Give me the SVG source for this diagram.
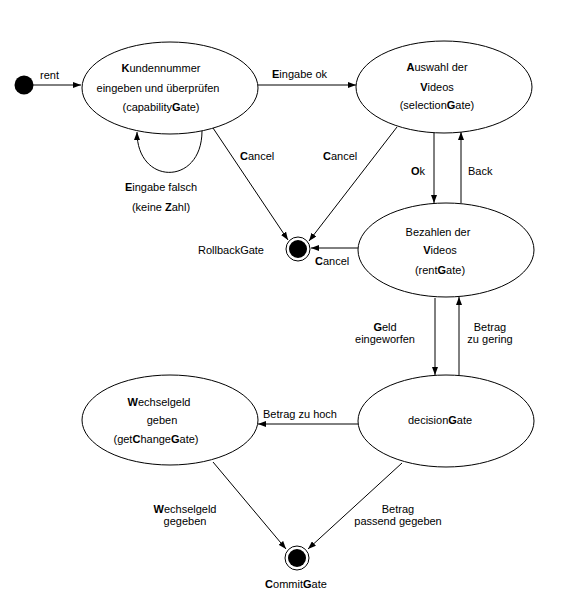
<svg xmlns="http://www.w3.org/2000/svg" width="573" height="603" viewBox="0 0 573 603">
<defs>
<style>
text{font-family:"Liberation Sans",Arial,sans-serif;font-size:11px;fill:#000}
.m{text-anchor:middle}
.e{text-anchor:end}
.b{font-weight:bold}
ellipse{fill:#fff;stroke:#000;stroke-width:1}
.c line,.c path{stroke:#000;stroke-width:1;fill:none}
</style>
<marker id="a" markerWidth="8" markerHeight="6" refX="8" refY="3" orient="auto" markerUnits="userSpaceOnUse">
<path d="M0,0 L8,3 L0,6 z" fill="#000"/>
</marker>
</defs>
<rect width="573" height="603" fill="#fff"/>

<g id="connectors" class="c">
<line x1="33" y1="85" x2="81" y2="85" marker-end="url(#a)"/>
<line x1="258" y1="85" x2="356" y2="85" marker-end="url(#a)"/>
<path d="M202,131 C202,186 137,186 137,132" marker-end="url(#a)"/>
<line x1="213" y1="128" x2="288" y2="240" marker-end="url(#a)"/>
<line x1="397" y1="127" x2="309" y2="241" marker-end="url(#a)"/>
<line x1="358" y1="248" x2="311" y2="248" marker-end="url(#a)"/>
<line x1="434" y1="133" x2="434" y2="203" marker-end="url(#a)"/>
<line x1="461" y1="203" x2="461" y2="132" marker-end="url(#a)"/>
<line x1="435" y1="298" x2="435" y2="375" marker-end="url(#a)"/>
<line x1="459" y1="375" x2="459" y2="297" marker-end="url(#a)"/>
<line x1="358" y1="424" x2="258" y2="424" marker-end="url(#a)"/>
<line x1="213" y1="462" x2="286" y2="549" marker-end="url(#a)"/>
<line x1="402" y1="463" x2="308" y2="549" marker-end="url(#a)"/>
<text x="40" y="79">rent</text>
<text x="272" y="78"><tspan class="b">E</tspan>ingabe ok</text>
<text x="240" y="160"><tspan class="b">C</tspan>ancel</text>
<text x="323" y="160"><tspan class="b">C</tspan>ancel</text>
<text x="315" y="265"><tspan class="b">C</tspan>ancel</text>
<text class="m" x="161" y="191"><tspan class="b">E</tspan>ingabe falsch</text>
<text class="m" x="161" y="211">(keine <tspan class="b">Z</tspan>ahl)</text>
<text x="411" y="175"><tspan class="b">O</tspan>k</text>
<text x="468" y="175">Back</text>
<text class="m" x="385" y="331"><tspan class="b">G</tspan>eld</text>
<text class="m" x="385" y="343">eingeworfen</text>
<text class="m" x="490" y="331">Betrag</text>
<text class="m" x="490" y="343">zu gering</text>
<text x="263" y="418">Betrag zu hoch</text>
<text class="m" x="185" y="513"><tspan class="b">W</tspan>echselgeld</text>
<text class="m" x="185" y="525">gegeben</text>
<text class="m" x="398" y="513">Betrag</text>
<text class="m" x="398" y="525">passend gegeben</text>
</g>

<g id="start">
<circle cx="24" cy="85" r="9.5" fill="#000"/>
</g>

<g id="capabilityGate">
<ellipse cx="170" cy="88" rx="88" ry="46"/>
<text class="m" x="161" y="72"><tspan class="b">K</tspan>undennummer</text>
<text class="m" x="158" y="92">eingeben und überprüfen</text>
<text class="m" x="161" y="111">(capability<tspan class="b">G</tspan>ate)</text>
</g>

<g id="selectionGate">
<ellipse cx="444" cy="87" rx="88" ry="46"/>
<text class="m" x="437" y="71"><tspan class="b">A</tspan>uswahl der</text>
<text class="m" x="437" y="91"><tspan class="b">V</tspan>ideos</text>
<text class="m" x="437" y="109">(selection<tspan class="b">G</tspan>ate)</text>
</g>

<g id="rentGate">
<ellipse cx="446" cy="250" rx="88" ry="47"/>
<text class="m" x="438" y="236">Bezahlen der</text>
<text class="m" x="440" y="254"><tspan class="b">V</tspan>ideos</text>
<text class="m" x="440" y="274">(rent<tspan class="b">G</tspan>ate)</text>
</g>

<g id="decisionGate">
<ellipse cx="446" cy="421" rx="88" ry="46"/>
<text class="m" x="440" y="424">decision<tspan class="b">G</tspan>ate</text>
</g>

<g id="getChangeGate">
<ellipse cx="170" cy="420" rx="88" ry="45"/>
<text class="m" x="159" y="406"><tspan class="b">W</tspan>echselgeld</text>
<text class="m" x="162" y="424">geben</text>
<text class="m" x="156" y="443">(get<tspan class="b">C</tspan>hange<tspan class="b">G</tspan>ate)</text>
</g>

<g id="RollbackGate">
<circle cx="298" cy="249" r="12" fill="#fff" stroke="#000"/>
<circle cx="298" cy="249" r="9" fill="#000"/>
<text class="e" x="264" y="254">RollbackGate</text>
</g>

<g id="CommitGate">
<circle cx="297" cy="558" r="12" fill="#fff" stroke="#000"/>
<circle cx="297" cy="558" r="9" fill="#000"/>
<text class="m" x="296" y="588"><tspan class="b">C</tspan>ommit<tspan class="b">G</tspan>ate</text>
</g>
</svg>
